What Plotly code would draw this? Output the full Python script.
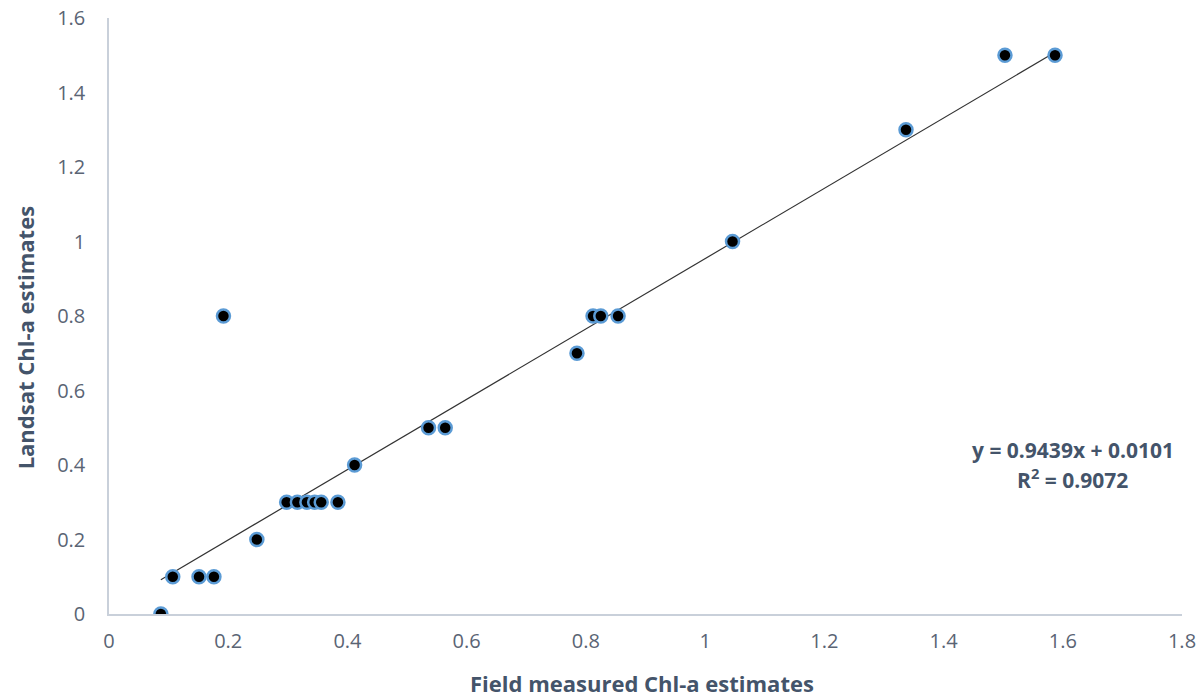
import plotly.graph_objects as go

field_chla = [0.087, 0.107, 0.151, 0.176, 0.192, 0.248, 0.298, 0.316, 0.332, 0.345, 0.356, 0.384,
              0.412, 0.536, 0.564, 0.785, 0.812, 0.825, 0.854, 1.046, 1.337, 1.503, 1.587]
landsat_chla = [0.0, 0.1, 0.1, 0.1, 0.8, 0.2, 0.3, 0.3, 0.3, 0.3, 0.3, 0.3,
                0.4, 0.5, 0.5, 0.7, 0.8, 0.8, 0.8, 1.0, 1.3, 1.5, 1.5]
slope = 0.9439
intercept = 0.0101
r2 = 0.9072
x_ticks = [0, 0.2, 0.4, 0.6, 0.8, 1, 1.2, 1.4, 1.6, 1.8]
y_ticks = [0, 0.2, 0.4, 0.6, 0.8, 1, 1.2, 1.4, 1.6]

xfit = [min(field_chla), max(field_chla)]
yfit = [slope * v + intercept for v in xfit]

FONT = "Open Sans, Liberation Sans, sans-serif"
title_color = "#44546A"

fig = go.Figure()
fig.add_trace(go.Scatter(x=xfit, y=yfit, mode="lines",
                         line=dict(color="#333333", width=1.2), hoverinfo="skip", showlegend=False))
fig.add_trace(go.Scatter(x=field_chla, y=landsat_chla, mode="markers",
                         marker=dict(color="black", size=13, line=dict(color="#5B9BD5", width=2.5)),
                         showlegend=False))

axis_line = "#C9D0DA"
tick_font = dict(family=FONT, size=20, color="#5A6474")

fig.update_xaxes(range=[0, 1.8], tickvals=x_ticks, ticktext=[f"{v:g}" for v in x_ticks],
                 showgrid=False, zeroline=False, showline=True, linecolor=axis_line, linewidth=1.5,
                 tickfont=tick_font, ticks="", ticklabelstandoff=8, automargin=False)
fig.update_yaxes(range=[0, 1.6], tickvals=y_ticks, ticktext=[f"{v:g}" for v in y_ticks],
                 showgrid=False, zeroline=False, showline=True, linecolor=axis_line, linewidth=1.5,
                 tickfont=tick_font, ticks="", ticklabelstandoff=18, automargin=False)

fig.add_annotation(xref="paper", yref="paper", x=0.497, y=-0.116, xanchor="center", yanchor="middle",
                   showarrow=False, text="<b>Field measured Chl-a estimates</b>",
                   font=dict(family=FONT, size=22, color=title_color))
fig.add_annotation(xref="paper", yref="paper", x=-0.078, y=0.463, xanchor="center", yanchor="middle",
                   textangle=-90, showarrow=False, text="<b>Landsat Chl-a estimates</b>",
                   font=dict(family=FONT, size=22, color=title_color))

eq_font = dict(family=FONT, size=21, color=title_color)
fig.add_annotation(x=1.617, y=0.44, xref="x", yref="y", showarrow=False, yanchor="middle",
                   text=f"<b>y = {slope}x + {intercept}</b>", font=eq_font)
fig.add_annotation(x=1.617, y=0.365, xref="x", yref="y", showarrow=False, yanchor="middle",
                   text=f"<b>R<sup>2</sup> = {r2}</b>", font=eq_font)

fig.update_layout(width=1202, height=698, margin=dict(l=109, r=20, t=18, b=84),
                  plot_bgcolor="white", paper_bgcolor="white")

fig.write_html("out.html")
